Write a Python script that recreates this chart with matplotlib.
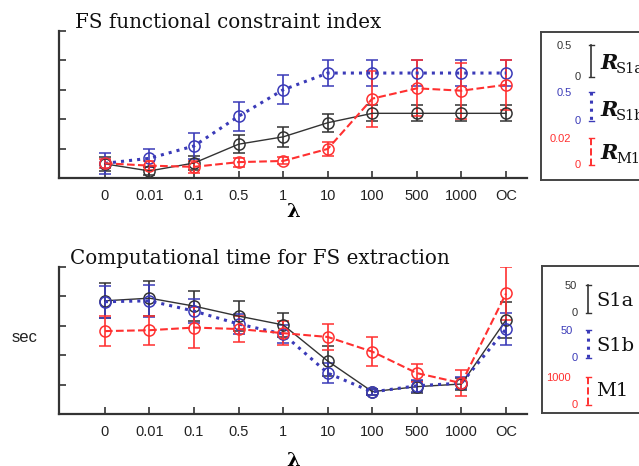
import numpy as np
import matplotlib.pyplot as plt

lambdas = ["0", "0.01", "0.1", "0.5", "1", "10", "100", "500", "1000", "OC"]

# FS functional constraint index (arbitrary units, no y labels on the original)
fs_s1a = [0.48, 0.24, 0.51, 1.15, 1.40, 1.88, 2.20, 2.20, 2.20, 2.20]
fs_s1a_err = [0.25, 0.15, 0.25, 0.30, 0.35, 0.30, 0.27, 0.27, 0.27, 0.27]
fs_s1b = [0.50, 0.67, 1.09, 2.10, 3.00, 3.57, 3.57, 3.57, 3.57, 3.57]
fs_s1b_err = [0.35, 0.30, 0.45, 0.50, 0.50, 0.45, 0.45, 0.45, 0.45, 0.45]
fs_m1 = [0.50, 0.42, 0.38, 0.54, 0.58, 0.99, 2.70, 3.05, 2.97, 3.17]
fs_m1_err = [0.15, 0.15, 0.20, 0.15, 0.12, 0.25, 0.95, 0.95, 0.95, 0.85]

# Computational time for FS extraction
ct_s1a = [3.85, 3.94, 3.67, 3.33, 3.03, 1.80, 0.76, 0.93, 1.02, 3.20]
ct_s1a_err = [0.60, 0.60, 0.50, 0.50, 0.40, 0.50, 0.10, 0.20, 0.20, 0.60]
ct_s1b = [3.82, 3.85, 3.50, 3.06, 2.72, 1.39, 0.75, 0.96, 1.05, 2.89]
ct_s1b_err = [0.55, 0.55, 0.40, 0.35, 0.30, 0.35, 0.10, 0.20, 0.20, 0.55]
ct_m1 = [2.82, 2.85, 2.94, 2.89, 2.75, 2.62, 2.12, 1.39, 1.05, 4.10]
ct_m1_err = [0.50, 0.50, 0.70, 0.45, 0.40, 0.45, 0.50, 0.30, 0.45, 0.90]

BLACK = "#333333"
BLUE = "#3a3ab8"
RED = "#ff3030"
SERIF = "DejaVu Serif"
SANS = "Liberation Sans"

W, H = 639, 466


def fig_box(x0, y0, x1, y1):
    # pixel box (top-left origin) -> figure fraction rect
    return [x0 / W, 1 - y1 / H, (x1 - x0) / W, (y1 - y0) / H]


def plot_panel(ax, series, title, title_y):
    x = np.arange(len(lambdas))
    styles = [(BLACK, "-", 1.0), (BLUE, ":", 2.2), (RED, "--", 1.5)]
    for (y, e), (c, ls, lw) in zip(series, styles):
        ax.errorbar(x, y, yerr=e, color=c, linestyle=ls, linewidth=lw,
                    marker="o", markersize=8, markerfacecolor="none",
                    markeredgewidth=1.1, capsize=4, elinewidth=1.2, capthick=1.2)
    ax.set_xlim(-1.03, 9.47)
    ax.set_ylim(0, 5)
    ax.set_xticks(x)
    ax.set_xticklabels(lambdas, fontfamily=SANS, fontsize=10.5, color="#222222")
    ax.set_yticks(range(6))
    ax.set_yticklabels([])
    ax.tick_params(direction="in", length=5, width=1.2, color="#333333", pad=8)
    for s in ["top", "right"]:
        ax.spines[s].set_visible(False)
    for s in ["left", "bottom"]:
        ax.spines[s].set_linewidth(1.6)
        ax.spines[s].set_color("#333333")
    ax.text(title_y[0], title_y[1], title, transform=ax.transAxes, fontfamily=SERIF,
            fontsize=14.3, color="#111111", ha="left", va="baseline")


def legend_box(rect, ylims):
    lax = fig.add_axes(rect)
    lax.set_xlim(ylims[0], ylims[1])
    lax.set_ylim(ylims[3], ylims[2])
    lax.set_xticks([])
    lax.set_yticks([])
    for s in lax.spines.values():
        s.set_linewidth(1.4)
        s.set_color("#444444")
    return lax


def scale_bar(lax, x, y0, y1, color, ls, lw, top, bottom, top_x, bottom_x):
    lax.plot([x, x], [y0, y1], color=color, linestyle=ls, linewidth=lw)
    lax.plot([x - 2.5, x + 2.5], [y0, y0], color=color, linewidth=1)
    lax.plot([x - 2.5, x + 2.5], [y1, y1], color=color, linewidth=1)
    lax.text(top_x, y0 + 1, top, color=color, fontsize=8, fontfamily=SANS,
             ha="right", va="center")
    lax.text(bottom_x, y1, bottom, color=color, fontsize=8, fontfamily=SANS,
             ha="right", va="center")


fig = plt.figure(figsize=(6.39, 4.66), dpi=100, facecolor="white")

ax1 = fig.add_axes(fig_box(59, 31, 527, 178))
plot_panel(ax1, [(fs_s1a, fs_s1a_err), (fs_s1b, fs_s1b_err), (fs_m1, fs_m1_err)],
           "FS functional constraint index", (0.034, 1.02))
ax1.set_xlabel("λ", fontfamily="DejaVu Serif", fontweight="bold", fontsize=14, labelpad=0)

ax2 = fig.add_axes(fig_box(59, 267, 527, 414))
plot_panel(ax2, [(ct_s1a, ct_s1a_err), (ct_s1b, ct_s1b_err), (ct_m1, ct_m1_err)],
           "Computational time for FS extraction", (0.024, 1.02))
ax2.set_xlabel("λ", fontfamily="DejaVu Serif", fontweight="bold", fontsize=14, labelpad=9)
fig.text(25 / W, 1 - 337 / H, "sec", fontfamily=SANS, fontsize=12,
         ha="center", va="center", color="#222222")

# legend box for the top panel (pixel coordinates inside the box)
lx0, ly0, lx1, ly1 = 541, 32, 690, 180
lax1 = legend_box(fig_box(lx0, ly0, lx1, ly1), (lx0, lx1, ly0, ly1))
scale_bar(lax1, 591, 45, 77, BLACK, "-", 1.2, "0.5", "0", 572, 581)
scale_bar(lax1, 591, 92, 121, BLUE, ":", 2.2, "0.5", "0", 572, 581)
scale_bar(lax1, 591, 138, 165, RED, "--", 1.4, "0.02", "0", 571, 581)
for yy, sub in [(63, "S1a"), (110, "S1b"), (153, "M1")]:
    lax1.text(600, yy, "R", fontfamily=SERIF, fontweight="bold", fontstyle="italic",
              fontsize=15, color="#111111", ha="left", va="center")
    lax1.text(616, yy + 6, sub, fontfamily=SERIF, fontsize=10.5, color="#111111",
              ha="left", va="center")

# legend box for the bottom panel
lx0, ly0, lx1, ly1 = 542, 266, 690, 413
lax2 = legend_box(fig_box(lx0, ly0, lx1, ly1), (lx0, lx1, ly0, ly1))
scale_bar(lax2, 588, 285, 313, BLACK, "-", 1.2, "50", "0", 577, 578)
scale_bar(lax2, 588, 330, 358, BLUE, ":", 2.2, "50", "0", 573, 578)
scale_bar(lax2, 588, 377, 405, RED, "--", 1.4, "1000", "0", 571, 578)
for yy, name in [(301, "S1a"), (346, "S1b"), (391, "M1")]:
    lax2.text(596, yy, name, fontfamily=SERIF, fontsize=14, color="#111111",
              ha="left", va="center")

fig.savefig("out.png", dpi=100)
